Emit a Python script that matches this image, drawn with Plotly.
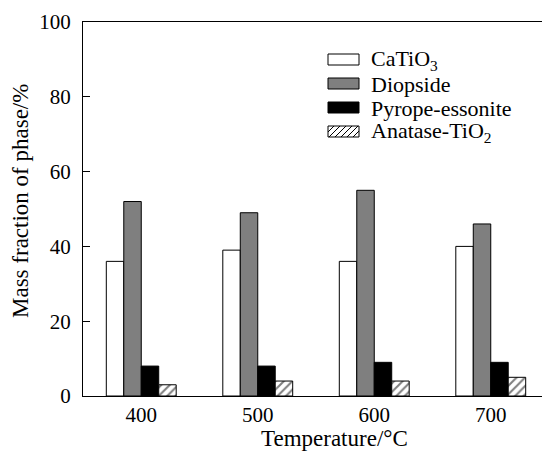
import plotly.graph_objects as go

temperatures = ["400", "500", "600", "700"]
catio3 = [36, 39, 36, 40]
diopside = [52, 49, 55, 46]
pyrope = [8, 8, 9, 9]
anatase = [3, 4, 4, 5]
y_ticks = [0, 20, 40, 60, 80, 100]
legend_names = ["CaTiO<sub>3</sub>", "Diopside", "Pyrope-essonite", "Anatase-TiO<sub>2</sub>"]

FONT = "Liberation Serif"
GREY = "#7f7f7f"

# the HTML body has an 8px margin, so the figure sits 8px right/down on screen
OFF = 8
# plot area geometry in screen pixels
L, R, T, B = 83, 549, 22, 396
W, H = R - L, B - T
FIG_W, FIG_H = 550, 452


def px(x):
    return (x - L) / W


def py(y):
    return (B - y) / H


fig = go.Figure()
fig.add_trace(go.Bar(x=temperatures, y=catio3, name=legend_names[0],
                     marker=dict(color="white", line=dict(color="black", width=1))))
fig.add_trace(go.Bar(x=temperatures, y=diopside, name=legend_names[1],
                     marker=dict(color=GREY, line=dict(color="black", width=1))))
fig.add_trace(go.Bar(x=temperatures, y=pyrope, name=legend_names[2],
                     marker=dict(color="black", line=dict(color="black", width=1))))
fig.add_trace(go.Bar(x=temperatures, y=anatase, name=legend_names[3],
                     marker=dict(color="white", line=dict(color="black", width=1),
                                 pattern=dict(shape="/", fgcolor="black", bgcolor="white",
                                              size=6, solidity=0.35))))

# manual legend (swatches + labels)
shapes = []
annotations = []
fills = ["white", GREY, "black", "white"]
row_tops = [54, 78, 102, 126]
sx0, sx1, sh = 328, 359, 11
for name, fill, top in zip(legend_names, fills, row_tops):
    shapes.append(dict(type="rect", xref="paper", yref="paper",
                       x0=px(sx0), x1=px(sx1), y0=py(top + sh), y1=py(top),
                       fillcolor=fill, line=dict(color="black", width=1), layer="above"))
    annotations.append(dict(text=name, xref="paper", yref="paper", x=px(369),
                            y=py(top + sh / 2 + 1), xanchor="left", yanchor="middle",
                            showarrow=False, font=dict(family=FONT, size=22)))
# hatch lines for last swatch
top = row_tops[3]
y0p, y1p = top + sh, top
a = sx0 - sh
while a < sx1:
    xa, ya = a, y0p
    xb, yb = a + sh, y1p
    if xa < sx0:
        ya = y0p - (sx0 - xa)
        xa = sx0
    if xb > sx1:
        yb = y1p + (xb - sx1)
        xb = sx1
    if xb > xa:
        shapes.append(dict(type="line", xref="paper", yref="paper",
                           x0=px(xa), y0=py(ya), x1=px(xb), y1=py(yb),
                           line=dict(color="black", width=1), layer="above"))
    a += 6

annotations.append(dict(text="Temperature/°C", xref="paper", yref="paper",
                        x=px(334), y=py(438), xanchor="center", yanchor="middle",
                        showarrow=False, font=dict(family=FONT, size=23)))
annotations.append(dict(text="Mass fraction of phase/%", xref="paper", yref="paper",
                        x=px(20), y=py(201), xanchor="center", yanchor="middle",
                        textangle=-90, showarrow=False, font=dict(family=FONT, size=23)))

fig.update_layout(
    width=FIG_W, height=FIG_H,
    margin=dict(l=L - OFF, r=FIG_W - (R - OFF), t=T - OFF, b=FIG_H - (B - OFF),
                autoexpand=False),
    paper_bgcolor="white", plot_bgcolor="white",
    barmode="group", bargap=0.4, bargroupgap=0,
    font=dict(family=FONT, size=21, color="black"),
    showlegend=False,
    xaxis=dict(showline=True, linecolor="black", linewidth=1, mirror=True,
               ticks="", tickfont=dict(family=FONT, size=21), showgrid=False,
               automargin=False),
    yaxis=dict(range=[0, 100], tickvals=y_ticks, showline=True, linecolor="black",
               linewidth=1, mirror=True, ticks="inside", ticklen=7, tickcolor="black",
               tickfont=dict(family=FONT, size=21), showgrid=False, zeroline=False,
               ticklabelstandoff=7, automargin=False),
    shapes=shapes,
    annotations=annotations,
)

fig.write_html("out.html")
